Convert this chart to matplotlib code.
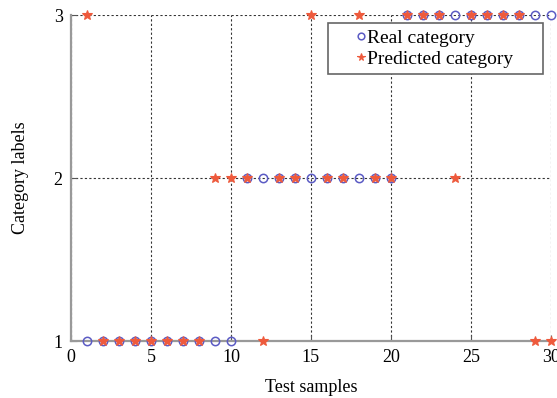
import matplotlib
matplotlib.use('Agg')
import matplotlib.pyplot as plt
import numpy as np

plt.rcParams['font.family'] = ['Liberation Serif', 'DejaVu Serif']

# test sample index
samples = np.arange(1, 31)
# real class of each sample
real_cat = [1] * 10 + [2] * 10 + [3] * 10
# class predicted by the model
pred_cat = [3, 1, 1, 1, 1, 1, 1, 1, 2, 2,
            2, 1, 2, 2, 3, 2, 2, 3, 2, 2,
            3, 3, 3, 2, 3, 3, 3, 3, 1, 1]

x_ticks = [0, 5, 10, 15, 20, 25, 30]
y_ticks = [1, 2, 3]

blue = '#5b5bc4'
red = '#ee5a3c'
fs = 13

fig = plt.figure(figsize=(5.57, 3.98), dpi=100)
ax = fig.add_axes([0.1275, 0.143, 0.8615, 0.819])

ax.plot(samples, real_cat, 'o', ls='none', mfc='none', mec=blue, mew=1.1,
        ms=6, label='Real category', clip_on=False, zorder=3)
ax.plot(samples, pred_cat, '*', ls='none', mfc=red, mec=red, mew=0.8,
        ms=7, label='Predicted category', clip_on=False, zorder=4)

ax.set_xlim(0, 30)
ax.set_ylim(1, 3)
ax.set_xticks(x_ticks)
ax.set_yticks(y_ticks)
ax.tick_params(direction='in', length=4, color='#555555', labelsize=fs, pad=6)
ax.grid(True, ls=(0, (2, 2)), color='#333333', lw=0.8)

for s in ['top', 'right']:
    ax.spines[s].set_visible(False)
for s in ['left', 'bottom']:
    ax.spines[s].set_color('#999999')
    ax.spines[s].set_linewidth(1.6)

ax.set_xlabel('Test samples', fontsize=fs, labelpad=9)
ax.set_ylabel('Category labels', fontsize=fs, labelpad=18)

leg = ax.legend(loc='upper left', bbox_to_anchor=(0.535, 0.822, 0.448, 0.153),
                mode='expand', fontsize=14, markerscale=0.8,
                handlelength=2.8, handletextpad=-1.1, borderpad=0.3,
                labelspacing=0.2, fancybox=False, framealpha=1,
                edgecolor='#666666', borderaxespad=0)
leg.get_frame().set_linewidth(1.2)

fig.savefig('out.png', dpi=100)
